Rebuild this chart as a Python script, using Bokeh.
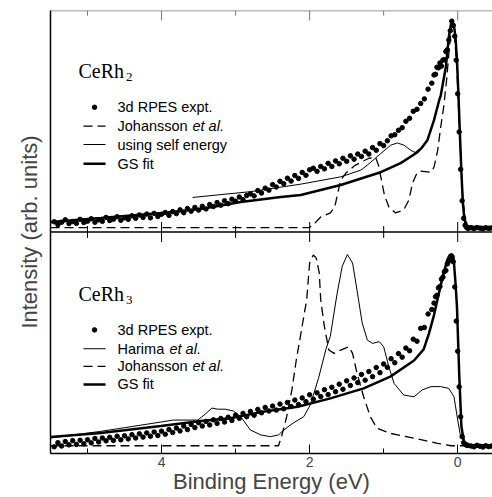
from bokeh.plotting import figure
from bokeh.models import Range1d, LinearAxis, FixedTicker, Span, Label
from bokeh.embed import file_html
from bokeh.resources import INLINE

# ---------------- data (binding energy in eV, intensity in panel units 0..1) -------------
major_ticks = [0, 2, 4]
minor_ticks = [-1, 1, 3, 5]

energy_expt = [
    5.45, 5.40, 5.35, 5.30, 5.25, 5.20, 5.15, 5.10, 5.05, 5.00,
    4.95, 4.90, 4.85, 4.80, 4.75, 4.70, 4.65, 4.60, 4.55, 4.50,
    4.45, 4.40, 4.35, 4.30, 4.25, 4.20, 4.15, 4.10, 4.05, 4.00,
    3.95, 3.90, 3.85, 3.80, 3.75, 3.70, 3.65, 3.60, 3.55, 3.50,
    3.45, 3.40, 3.35, 3.30, 3.25, 3.20, 3.15, 3.10, 3.05, 3.00,
    2.95, 2.90, 2.85, 2.80, 2.75, 2.70, 2.65, 2.60, 2.55, 2.50,
    2.45, 2.40, 2.35, 2.30, 2.25, 2.20, 2.15, 2.10, 2.05, 2.00,
    1.95, 1.90, 1.85, 1.80, 1.75, 1.70, 1.65, 1.60, 1.55, 1.50,
    1.45, 1.40, 1.35, 1.30, 1.25, 1.20, 1.15, 1.10, 1.05, 1.00,
    0.95, 0.90, 0.85, 0.80, 0.75, 0.70, 0.65, 0.60, 0.55, 0.50,
    0.45, 0.40, 0.35,
    0.32, 0.30, 0.28, 0.26, 0.24, 0.22, 0.20, 0.18, 0.16, 0.14, 0.12, 0.10,
    0.08, 0.06, 0.04, 0.02, 0.00, -0.02, -0.04, -0.06, -0.08, -0.10, -0.12, -0.14,
    -0.18, -0.22, -0.26, -0.30, -0.34, -0.38, -0.42, -0.46,
]

cerh2_expt = [
    0.046, 0.033, 0.044, 0.055, 0.038, 0.047, 0.039, 0.057, 0.043, 0.049,
    0.060, 0.044, 0.055, 0.048, 0.066, 0.052, 0.058, 0.069, 0.053, 0.064,
    0.057, 0.073, 0.062, 0.077, 0.066, 0.081, 0.064, 0.084, 0.070, 0.080,
    0.088, 0.075, 0.092, 0.083, 0.100, 0.087, 0.106, 0.094, 0.111, 0.099,
    0.116, 0.104, 0.124, 0.115, 0.133, 0.121, 0.141, 0.128, 0.148, 0.139,
    0.158, 0.146, 0.165, 0.172, 0.163, 0.187, 0.176, 0.198, 0.189, 0.214,
    0.203, 0.229, 0.218, 0.243, 0.230, 0.255, 0.242, 0.269, 0.256, 0.281,
    0.288, 0.274, 0.296, 0.285, 0.310, 0.296, 0.321, 0.308, 0.333, 0.319,
    0.344, 0.329, 0.352, 0.341, 0.365, 0.352, 0.381, 0.369, 0.399, 0.390,
    0.412, 0.434, 0.439, 0.459, 0.471, 0.500, 0.513, 0.545, 0.554, 0.580,
    0.601, 0.645, 0.672,
    0.709, 0.712, 0.744, 0.741, 0.763, 0.749, 0.776, 0.778, 0.815, 0.823, 0.867, 0.909,
    0.952, 0.933, 0.884, 0.776, 0.624, 0.452, 0.283, 0.141, 0.062, 0.030, 0.021, 0.016,
    0.019, 0.015, 0.020, 0.017, 0.014, 0.019, 0.016, 0.018,
]

cerh3_expt = [
    0.030, 0.049, 0.034, 0.054, 0.039, 0.058, 0.041, 0.060, 0.044, 0.062,
    0.048, 0.068, 0.052, 0.070, 0.057, 0.073, 0.059, 0.078, 0.062, 0.080,
    0.066, 0.085, 0.070, 0.089, 0.074, 0.093, 0.078, 0.097, 0.081, 0.101,
    0.087, 0.108, 0.095, 0.115, 0.102, 0.124, 0.108, 0.131, 0.117, 0.139,
    0.124, 0.145, 0.129, 0.152, 0.136, 0.158, 0.142, 0.164, 0.149, 0.173,
    0.159, 0.181, 0.166, 0.190, 0.173, 0.199, 0.184, 0.208, 0.192, 0.214,
    0.196, 0.223, 0.202, 0.230, 0.212, 0.241, 0.221, 0.251, 0.234, 0.265,
    0.245, 0.274, 0.257, 0.288, 0.266, 0.299, 0.279, 0.313, 0.290, 0.328,
    0.307, 0.341, 0.320, 0.357, 0.331, 0.370, 0.347, 0.388, 0.365, 0.404,
    0.389, 0.428, 0.410, 0.451, 0.435, 0.476, 0.464, 0.516, 0.507, 0.565,
    0.569, 0.630, 0.650,
    0.679, 0.708, 0.714, 0.748, 0.754, 0.787, 0.796, 0.821, 0.826, 0.856, 0.868, 0.884,
    0.890, 0.866, 0.752, 0.598, 0.462, 0.301, 0.166, 0.076, 0.049, 0.043, 0.037, 0.036,
    0.034, 0.030, 0.037, 0.033, 0.029, 0.035, 0.031, 0.034,
]

cerh2_gs_energy = [5.50, 4.82, 4.00, 3.47, 2.93, 2.39, 2.12, 1.58, 1.04, 0.77,
                   0.59, 0.49, 0.41, 0.32, 0.25, 0.23, 0.16, 0.12, 0.09, 0.07,
                   0.05, 0.03, 0.01, -0.01, -0.03, -0.05, -0.07, -0.09, -0.11, -0.14,
                   -0.24, -0.47]
cerh2_gs = [0.045, 0.063, 0.086, 0.104, 0.135, 0.158, 0.167, 0.212, 0.270, 0.311,
            0.350, 0.378, 0.414, 0.505, 0.595, 0.615, 0.745, 0.880, 0.940, 0.950,
            0.930, 0.880, 0.780, 0.620, 0.440, 0.270, 0.130, 0.060, 0.035, 0.026,
            0.023, 0.023]

cerh2_self_energy_energy = [3.58, 2.80, 2.12, 1.58, 1.31, 1.22, 1.04, 0.905, 0.815, 0.725,
                            0.635, 0.545, 0.49, 0.41, 0.32, 0.25, 0.23, 0.16, 0.12, 0.09,
                            0.07, 0.05, 0.03, 0.01, -0.01, -0.03, -0.05, -0.07, -0.09, -0.11,
                            -0.14, -0.24, -0.47]
cerh2_self_energy = [0.156, 0.182, 0.216, 0.249, 0.279, 0.302, 0.354, 0.392, 0.402, 0.392,
                     0.369, 0.354, 0.378, 0.414, 0.505, 0.595, 0.615, 0.745, 0.880, 0.940,
                     0.950, 0.930, 0.880, 0.780, 0.620, 0.440, 0.270, 0.130, 0.060, 0.035,
                     0.026, 0.023, 0.023]

cerh2_johansson_energy = [5.50, 2.00, 1.93, 1.85, 1.72, 1.66, 1.62, 1.58, 1.51, 1.38,
                          1.20, 1.11, 1.07, 1.03, 0.99, 0.93, 0.84, 0.73, 0.66, 0.61,
                          0.55, 0.50, 0.36, 0.32, 0.27, 0.23, 0.19, 0.15, 0.11, 0.08,
                          0.05, 0.01, -0.03, -0.07, -0.11, -0.18, -0.47]
cerh2_johansson = [0.020, 0.020, 0.040, 0.068, 0.086, 0.113, 0.176, 0.234, 0.266, 0.302,
                   0.333, 0.338, 0.302, 0.234, 0.167, 0.113, 0.086, 0.099, 0.144, 0.221,
                   0.266, 0.275, 0.270, 0.293, 0.369, 0.473, 0.563, 0.685, 0.842, 0.932,
                   0.919, 0.730, 0.414, 0.144, 0.045, 0.022, 0.020]

cerh3_gs_energy = [5.50, 4.82, 4.01, 3.47, 3.07, 2.62, 2.16, 1.72, 1.27, 0.91,
                   0.59, 0.46, 0.39, 0.32, 0.26, 0.19, 0.14, 0.11, 0.085, 0.06,
                   0.05, 0.03, 0.01, -0.02, -0.05, -0.085, -0.15, -0.47]
cerh3_gs = [0.074, 0.093, 0.124, 0.147, 0.159, 0.189, 0.211, 0.249, 0.294, 0.347,
            0.420, 0.470, 0.540, 0.625, 0.715, 0.815, 0.874, 0.895, 0.900, 0.890,
            0.860, 0.770, 0.663, 0.362, 0.121, 0.053, 0.038, 0.036]

cerh3_harima_energy = [5.50, 4.82, 4.01, 3.84, 3.51, 3.41, 3.32, 3.24, 3.14, 3.03,
                       2.93, 2.80, 2.66, 2.53, 2.42, 2.35, 2.22, 2.08, 1.99, 1.88,
                       1.78, 1.72, 1.63, 1.56, 1.49, 1.42, 1.36, 1.29, 1.22, 1.15,
                       1.06, 1.00, 0.93, 0.86, 0.73, 0.59, 0.48, 0.36, 0.23, 0.12,
                       0.05, 0.00, -0.04, -0.11, -0.18, -0.47]
cerh3_harima = [0.070, 0.100, 0.142, 0.151, 0.151, 0.178, 0.205, 0.200, 0.200, 0.192,
                0.166, 0.106, 0.084, 0.076, 0.084, 0.106, 0.138, 0.166, 0.220, 0.340,
                0.470, 0.530, 0.720, 0.845, 0.898, 0.860, 0.738, 0.589, 0.512, 0.497,
                0.505, 0.482, 0.392, 0.317, 0.264, 0.256, 0.287, 0.302, 0.302, 0.294,
                0.256, 0.151, 0.076, 0.046, 0.036, 0.036]

cerh3_johansson_energy = [5.50, 2.42, 2.38, 2.31, 2.24, 2.18, 2.11, 2.04, 2.00, 1.95,
                          1.91, 1.87, 1.85, 1.80, 1.74, 1.67, 1.58, 1.47, 1.42, 1.36,
                          1.27, 1.18, 1.09, 0.91, 0.59, 0.27, 0.09, -0.47]
cerh3_johansson = [0.035, 0.035, 0.076, 0.166, 0.287, 0.422, 0.558, 0.693, 0.860, 0.896,
                   0.882, 0.815, 0.693, 0.572, 0.467, 0.452, 0.467, 0.482, 0.452, 0.362,
                   0.256, 0.166, 0.114, 0.091, 0.069, 0.046, 0.035, 0.035]

# ---------------- styling / layout constants -------------
SANS = "Liberation Sans"
SERIF = "Liberation Serif"
TOP = 1.0      # vertical offset of the upper (CeRh2) panel
YMAX = 2.0
DASH = "9 5"
DOT = 4.5
LEG_FONT = "14.5px"

def shift(vals):
    return [v + TOP for v in vals]

p = figure(width=492, height=497, x_range=Range1d(5.5, -0.47), y_range=Range1d(0, YMAX),
           x_axis_type=None, y_axis_type=None, output_backend="svg", toolbar_location=None,
           min_border_left=50, min_border_right=0, min_border_top=10, min_border_bottom=44)
p.outline_line_color = None
p.background_fill_color = "white"
p.border_fill_color = "white"

below = LinearAxis(ticker=FixedTicker(ticks=major_ticks, minor_ticks=minor_ticks))
below.axis_label = "Binding Energy (eV)"
below.axis_label_text_font = SANS
below.axis_label_text_font_size = "22px"
below.axis_label_text_font_style = "normal"
below.axis_label_standoff = -1
below.major_label_text_font = SANS
below.major_label_text_font_size = "14px"
below.major_label_standoff = 3
below.major_tick_in = 9
below.major_tick_out = 0
below.minor_tick_in = 5
below.minor_tick_out = 0
below.axis_line_width = 1.5
p.add_layout(below, "below")

left = LinearAxis(ticker=FixedTicker(ticks=[]))
left.major_tick_in = 0
left.major_tick_out = 0
left.minor_tick_in = 0
left.minor_tick_out = 0
left.axis_line_width = 1.5
left.axis_label = "Intensity (arb. units)"
left.axis_label_text_font = SANS
left.axis_label_text_font_size = "22px"
left.axis_label_text_font_style = "normal"
left.axis_label_standoff = 9
p.add_layout(left, "left")

# top frame line (grey) with inward ticks
p.add_layout(Span(location=YMAX, dimension="width", line_color="#777777", line_width=1.5))
p.segment(x0=major_ticks, y0=[YMAX - 0.045] * len(major_ticks), x1=major_ticks,
          y1=[YMAX] * len(major_ticks), line_color="#777777", line_width=1)
p.segment(x0=minor_ticks, y0=[YMAX - 0.023] * len(minor_ticks), x1=minor_ticks,
          y1=[YMAX] * len(minor_ticks), line_color="#777777", line_width=1)

# panel separator with ticks crossing it
p.add_layout(Span(location=TOP, dimension="width", line_color="black", line_width=1.5))
p.segment(x0=major_ticks, y0=[TOP - 0.045] * len(major_ticks), x1=major_ticks,
          y1=[TOP + 0.045] * len(major_ticks), line_color="black", line_width=1)
p.segment(x0=minor_ticks, y0=[TOP - 0.027] * len(minor_ticks), x1=minor_ticks,
          y1=[TOP + 0.027] * len(minor_ticks), line_color="black", line_width=1)

# ---- upper panel: CeRh2
p.line(cerh2_johansson_energy, shift(cerh2_johansson), line_color="black", line_width=1.3, line_dash=DASH)
p.line(cerh2_self_energy_energy, shift(cerh2_self_energy), line_color="black", line_width=1)
p.line(cerh2_gs_energy, shift(cerh2_gs), line_color="black", line_width=2.5)
p.scatter(energy_expt, shift(cerh2_expt), size=DOT, color="black")

# ---- lower panel: CeRh3
p.line(cerh3_johansson_energy, cerh3_johansson, line_color="black", line_width=1.3, line_dash=DASH)
p.line(cerh3_harima_energy, cerh3_harima, line_color="black", line_width=1)
p.line(cerh3_gs_energy, cerh3_gs, line_color="black", line_width=2.5)
p.scatter(energy_expt, cerh3_expt, size=DOT, color="black")

# ---- compound labels
def compound(x, y, base, sub, sub_dx, sub_dy):
    p.add_layout(Label(x=x, y=y, text=base, text_font=SERIF, text_font_size="20px",
                       text_baseline="alphabetic", text_color="black"))
    p.add_layout(Label(x=x, y=y, x_offset=sub_dx, y_offset=sub_dy, text=sub, text_font=SERIF,
                       text_font_size="13px", text_baseline="alphabetic", text_color="black"))

compound(5.122, 1.729, "CeRh", "2", 47.5, -6.5)
compound(5.122, 0.722, "CeRh", "3", 47.5, -6.5)

# ---- hand-made legends
LEG_LINE = [5.054, 4.757]
LEG_DOT = 4.905
LEG_TEXT = 4.595

def leg_text(y, plain, italic=None, italic_dx=0):
    p.add_layout(Label(x=LEG_TEXT, y=y, text=plain, text_font=SANS, text_font_size=LEG_FONT,
                       text_baseline="middle", text_color="black"))
    if italic:
        p.add_layout(Label(x=LEG_TEXT, y=y, x_offset=italic_dx, text=italic, text_font=SANS,
                           text_font_size=LEG_FONT, text_font_style="italic",
                           text_baseline="middle", text_color="black"))

def leg_dots(y, text):
    p.scatter([LEG_DOT], [y], size=DOT, color="black")
    leg_text(y, text)

def leg_line(y, width, dash, plain, italic=None, italic_dx=0):
    p.line(LEG_LINE, [y, y], line_color="black", line_width=width, line_dash=dash)
    leg_text(y, plain, italic, italic_dx)

top_rows = [1.563, 1.478, 1.395, 1.308]
leg_dots(top_rows[0], "3d RPES expt.")
leg_line(top_rows[1], 1.3, DASH, "Johansson", "et al.", 75)
leg_line(top_rows[2], 1, "solid", "using self energy")
leg_line(top_rows[3], 2.5, "solid", "GS fit")

bot_rows = [0.558, 0.473, 0.393, 0.312]
leg_dots(bot_rows[0], "3d RPES expt.")
leg_line(bot_rows[1], 1, "solid", "Harima", "et al.", 52)
leg_line(bot_rows[2], 1.3, DASH, "Johansson", "et al.", 75)
leg_line(bot_rows[3], 2.5, "solid", "GS fit")

open("out.html", "w").write(file_html(p, INLINE))
